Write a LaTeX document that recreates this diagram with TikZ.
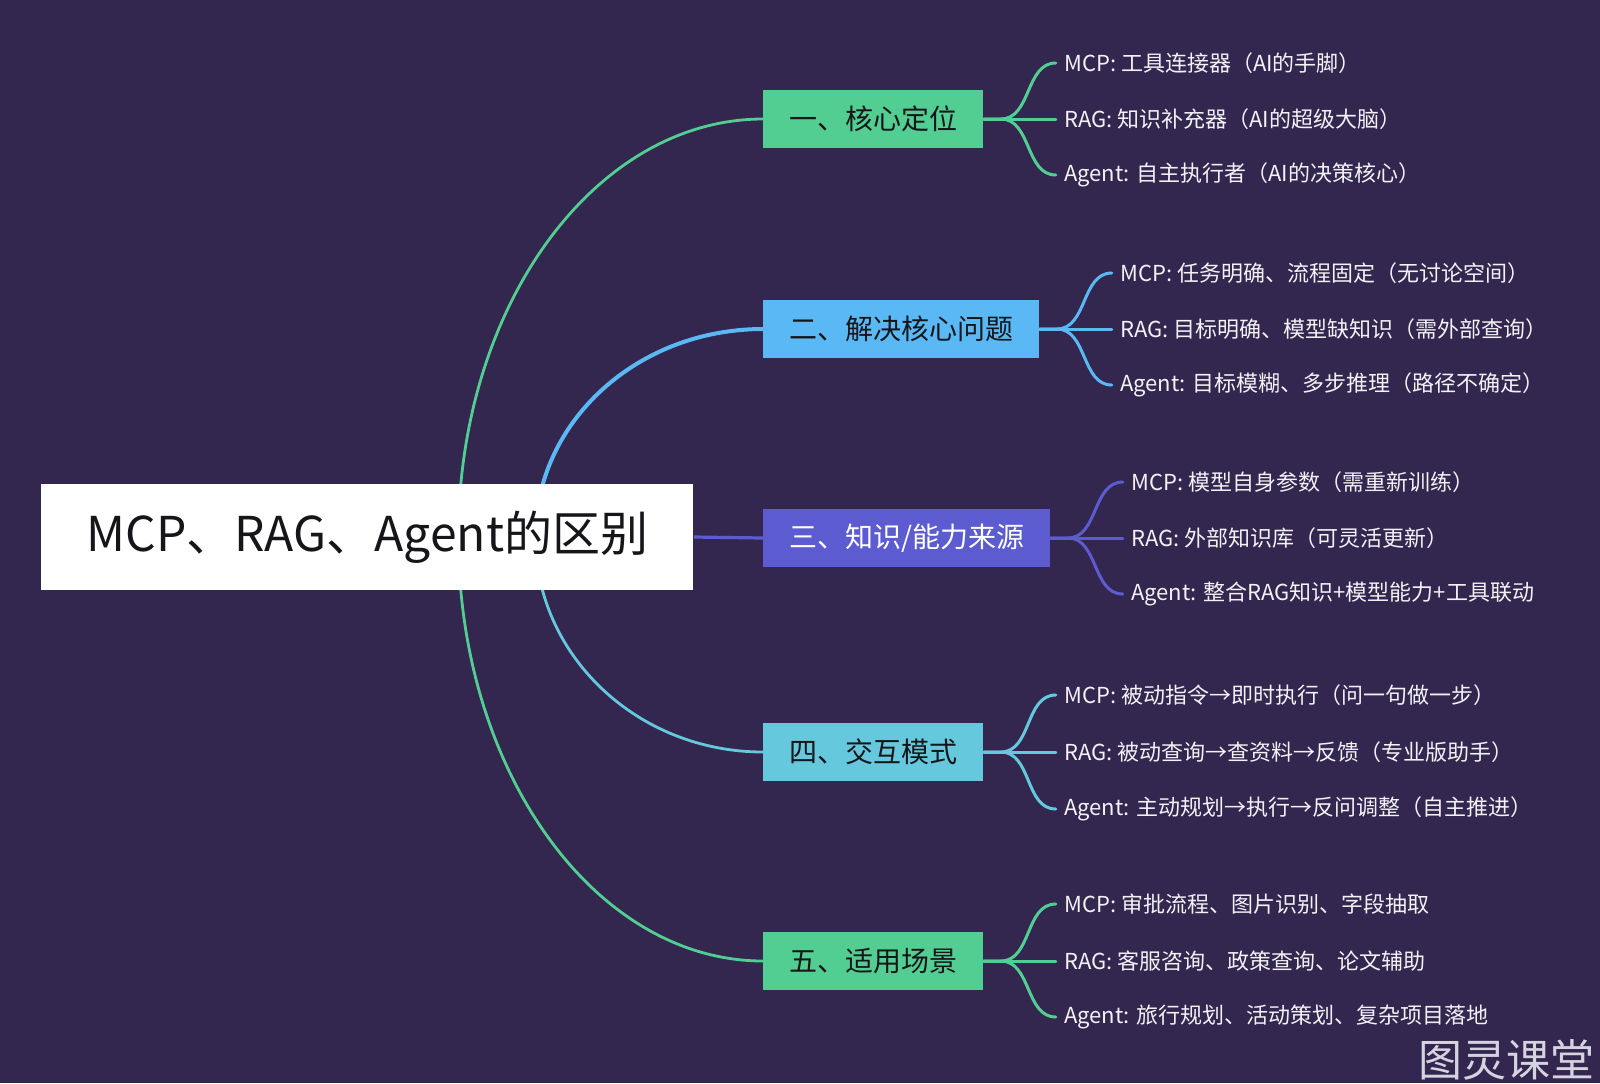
\documentclass[tikz,border=0pt]{standalone}
\usepackage{fontspec}
\setmainfont{Noto Sans CJK SC}
\usepackage{xcolor}
\usepackage{tikz}
\usetikzlibrary{positioning, calc}
\pgfdeclarelayer{bg}
\pgfsetlayers{bg,main}
\definecolor{night}{RGB}{51,39,79}
\definecolor{mint}{RGB}{82,206,147}
\definecolor{sky}{RGB}{90,185,245}
\definecolor{indigo}{RGB}{92,92,208}
\definecolor{aqua}{RGB}{102,200,220}
\definecolor{ink}{RGB}{22,22,26}
\definecolor{paper}{RGB}{242,242,246}
\definecolor{mark}{RGB}{214,211,224}

\begin{document}
\begin{tikzpicture}[
    x=0.5pt, y=-0.5pt,
    root/.style={rectangle, fill=white, anchor=west, minimum width=326pt, minimum height=53pt, text=ink, font=\fontsize{24}{29}\selectfont},
    topic/.style={rectangle, fill=#1, anchor=west, minimum height=29pt, inner xsep=13pt, text=ink, font=\fontsize{14}{17}\selectfont},
    leaf/.style={anchor=west, inner xsep=4pt, text=paper, font=\fontsize{11}{13}\selectfont},
    link/.style={draw=#1, line width=1.4pt},
    twig/.style={draw=#1, line width=1.5pt, line cap=round},
]
\useasboundingbox (0,0) rectangle (1600,1083);

% root and the five topics
\node[root] (root) at (41,537) {MCP、RAG、Agent的区别};
\node[topic=mint] (core) at (763,119) {一、核心定位};
\node[topic=sky] (issue) at (763,329) {二、解决核心问题};
\node[topic=indigo, text=white] (source) at (763,538) {三、知识/能力来源};
\node[topic=aqua] (mode) at (763,752) {四、交互模式};
\node[topic=mint] (scene) at (763,961) {五、适用场景};

% leaves
\node[leaf, right=36pt of core] (core-r) {RAG: 知识补充器（AI的超级大脑）};
\node[leaf] (core-m) at ($(core-r.west)+(0,-56)$) {MCP: 工具连接器（AI的手脚）};
\node[leaf] (core-a) at ($(core-r.west)+(0,56)$) {Agent: 自主执行者（AI的决策核心）};

\node[leaf, right=36pt of issue] (issue-r) {RAG: 目标明确、模型缺知识（需外部查询）};
\node[leaf] (issue-m) at ($(issue-r.west)+(0,-56)$) {MCP: 任务明确、流程固定（无讨论空间）};
\node[leaf] (issue-a) at ($(issue-r.west)+(0,56)$) {Agent: 目标模糊、多步推理（路径不确定）};

\node[leaf, right=36pt of source] (source-r) {RAG: 外部知识库（可灵活更新）};
\node[leaf] (source-m) at ($(source-r.west)+(0,-56)$) {MCP: 模型自身参数（需重新训练）};
\node[leaf] (source-a) at ($(source-r.west)+(0,56)$) {Agent: 整合RAG知识+模型能力+工具联动};

\node[leaf, right=36pt of mode] (mode-r) {RAG: 被动查询→查资料→反馈（专业版助手）};
\node[leaf] (mode-m) at ($(mode-r.west)+(0,-57)$) {MCP: 被动指令→即时执行（问一句做一步）};
\node[leaf] (mode-a) at ($(mode-r.west)+(0,57)$) {Agent: 主动规划→执行→反问调整（自主推进）};

\node[leaf, right=36pt of scene] (scene-r) {RAG: 客服咨询、政策查询、论文辅助};
\node[leaf] (scene-m) at ($(scene-r.west)+(0,-57)$) {MCP: 审批流程、图片识别、字段抽取};
\node[leaf] (scene-a) at ($(scene-r.west)+(0,56)$) {Agent: 旅行规划、活动策划、复杂项目落地};

\node[text=mark, font=\fontsize{22}{26}\selectfont] (logo) at (1506,1060) {图灵课堂};

\begin{pgfonlayer}{bg}
\fill[night] (0,0) rectangle (1600,1083);
\coordinate (outer) at ($(root.center)+(91,0)$);
\coordinate (inner) at ($(root.center)+(168,0)$);
\draw[link=mint] (outer) .. controls +(0,-231) and +(-168,0) .. (core.west);
\draw[link=sky, line width=2pt] (inner) .. controls +(0,-115) and +(-126,0) .. (issue.west);
\draw[link=indigo, line width=1.6pt] (root.east) -- (source.west);
\draw[link=aqua] (inner) .. controls +(0,118) and +(-126,0) .. (mode.west);
\draw[link=mint] (outer) .. controls +(0,234) and +(-168,0) .. (scene.west);
\foreach \t/\c in {core/mint, issue/sky, source/indigo, mode/aqua, scene/mint} {
    \draw[twig=\c] (\t.east) -- (\t-r.west);
    \foreach \l in {m,a}
        \draw[twig=\c] (\t.east) -- ++(17,0) to[out=0, in=180] (\t-\l.west);
}
\end{pgfonlayer}
\end{tikzpicture}
\end{document}
